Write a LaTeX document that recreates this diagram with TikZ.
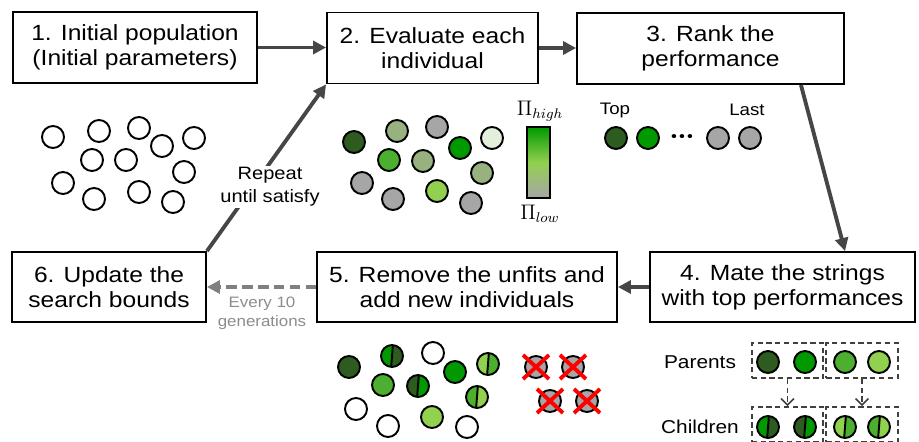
\documentclass[tikz,border=0pt]{standalone}
\usepackage{fontspec}
\setmainfont{Liberation Sans}[FakeStretch=1.12]
\usetikzlibrary{arrows.meta}
\definecolor{darkg}{RGB}{46,92,32}
\definecolor{brightg}{RGB}{0,153,0}
\definecolor{midg}{RGB}{76,175,48}
\definecolor{lightg}{RGB}{146,208,80}
\definecolor{sage}{RGB}{152,178,127}
\definecolor{pale}{RGB}{226,239,218}
\definecolor{greyc}{RGB}{166,166,166}
\definecolor{arrowgray}{RGB}{70,70,70}
\definecolor{dashgray}{RGB}{64,64,64}
\definecolor{softgray}{RGB}{128,128,128}
\definecolor{labelgray}{RGB}{140,140,140}

\tikzset{halves/.style 2 args={ind,path picture={
    \fill[#1] (path picture bounding box.south west) rectangle (path picture bounding box.north);
    \fill[#2] (path picture bounding box.south) rectangle (path picture bounding box.north east);
    \draw[line width=1.1pt] ([xshift=0.5pt]path picture bounding box.north) -- ([xshift=-0.5pt]path picture bounding box.south);}}}

\begin{document}
\begin{tikzpicture}[x=0.02cm,y=-0.02cm]
  \tikzstyle{stage}=[draw,line width=1.1pt,minimum height=1.42cm,inner sep=0pt,align=center,
    font=\fontsize{12.5}{14.2}\selectfont]
  \tikzstyle{ind}=[circle,draw,line width=1.1pt,minimum size=0.44cm,inner sep=0pt,fill=white]
  \tikzstyle{f}=[-{Triangle[length=2.6mm,width=2.6mm]},arrowgray,line width=2.2pt]
  \tikzstyle{lbl}=[font=\fontsize{10.6}{12.5}\selectfont]
  \tikzstyle{grp}=[draw=dashgray,dash pattern=on 3pt off 2pt,line width=0.9pt,
    minimum width=1.43cm,minimum height=0.7cm]
  \tikzstyle{grpa}=[-{Straight Barb[length=1.3mm,width=2.6mm]},dashgray,dash pattern=on 3pt off 2pt,line width=0.9pt]
  \tikzstyle{xm}=[red,line width=2.2pt]

  \useasboundingbox (0,0) rectangle (919,442);

  \node[stage,minimum width=4.88cm] (init) at (135,47.5) {1. Initial population\\(Initial parameters)};
  \node[stage,minimum width=4.22cm] (eval) at (432.5,48) {2. Evaluate each\\individual};
  \node[stage,minimum width=5.34cm] (rank) at (710.5,48.5) {3. Rank the\\performance};
  \node[stage,minimum width=5.3cm,minimum height=1.4cm] (mate) at (782.5,287) {4. Mate the strings\\with top performances};
  \node[stage,minimum width=6cm,minimum height=1.4cm] (remove) at (467,287) {5. Remove the unfits and\\add new individuals};
  \node[stage,minimum width=3.88cm,minimum height=1.4cm] (update) at (109,287) {6. Update the\\search bounds};

  \draw[f] (init.east) -- (init.east -| eval.west);
  \draw[f] (eval.east) -- (eval.east -| rank.west);
  \draw[f] ([xshift=-0.88cm]rank.south east) -- ([xshift=1.25cm]mate.north);
  \draw[f] (mate.west) -- (remove.east);
  \draw[f,softgray,dash pattern=on 6pt off 3pt] (remove.west) -- (update.east);
  \draw[f] (update.north east) -- (eval.south west);
  \node[lbl,fill=white,inner sep=1pt,align=center,font=\fontsize{10.2}{13}\selectfont] (repeat) at (270,187) {Repeat\\until satisfy};
  \node[font=\fontsize{8.6}{10.8}\selectfont,text=labelgray,align=center] (every) at (262,313) {Every 10\\generations};

  \foreach \x/\y [count=\i] in {53/137,99/131,139/128,162/146,194/138,92/160,126/160,184/172,63/183,94/199,139/192,173/202}
    \node[ind] (p\i) at (\x,\y) {};

  \foreach \x/\y/\c [count=\i] in {354/142/darkg,397/131/sage,437/127/greyc,460/148/brightg,492/138/pale,389/160/midg,
      423/161/sage,482/173/sage,362/183/greyc,393/199/greyc,437/191/lightg,471/203/greyc}
    \node[ind,fill=\c] (e\i) at (\x,\y) {};

  \node[draw,line width=1.1pt,inner sep=0pt,minimum width=0.46cm,minimum height=1.42cm,
    top color=brightg,bottom color=greyc,middle color=lightg] (bar) at (538.5,162.5) {};
  \node[font=\fontsize{11.5}{13}\selectfont] (phigh) at (540,111) {$\Pi_{high}$};
  \node[font=\fontsize{11.5}{13}\selectfont] (plow) at (540,214) {$\Pi_{low}$};

  \node[lbl,font=\fontsize{9.5}{11}\selectfont] (top) at (615,110) {Top};
  \node[lbl,font=\fontsize{9.5}{11}\selectfont] (last) at (747,110) {Last};
  \node[ind,fill=darkg] (r1) at (616,138) {};
  \node[ind,fill=brightg] (r2) at (648,138) {};
  \node[font=\fontsize{8.5}{9}\selectfont] (dots) at (682,138) {\textbullet\hspace{1.2pt}\textbullet\hspace{1.2pt}\textbullet};
  \node[ind,fill=greyc] (r3) at (718,138) {};
  \node[ind,fill=greyc] (r4) at (750,138) {};

  \foreach \x/\y/\c [count=\i] in {349/367/darkg,433/353/white,455/372/brightg,383/385/midg,356/409/white,
      388/426/white,432/417/lightg,467/427/white}
    \node[ind,fill=\c] (n\i) at (\x,\y) {};
  \foreach \x/\y/\a/\b [count=\i] in {392/356/brightg/darkg,488/364/lightg/midg,418/386/darkg/brightg,477/397/midg/lightg}
    \node[halves={\a}{\b}] (h\i) at (\x,\y) {};

  \foreach \x/\y [count=\i] in {536/367,573/367,550/401,587/401}{
    \node[ind,fill=greyc] (c\i) at (\x,\y) {};
    \draw[xm] ([shift={(-13,-12)}]c\i.center) -- ([shift={(13,12)}]c\i.center);
    \draw[xm] ([shift={(-13,12)}]c\i.center) -- ([shift={(13,-12)}]c\i.center);
  }

  \node[lbl] (parents) at (700,362) {Parents};
  \node[lbl] (children) at (700,427) {Children};
  \node[grp] (ga) at (787.5,360.5) {};
  \node[grp] (gb) at (862,360.5) {};
  \node[grp] (ka) at (787.5,424.5) {};
  \node[grp] (kb) at (862,424.5) {};
  \node[ind,fill=darkg] (m1) at (768,362) {};
  \node[ind,fill=brightg] (m2) at (805,362) {};
  \node[ind,fill=midg] (m3) at (845,362) {};
  \node[ind,fill=lightg] (m4) at (879,362) {};
  \node[halves={brightg}{darkg}] (k1) at (768,427) {};
  \node[halves={darkg}{brightg}] (k2) at (805,427) {};
  \node[halves={lightg}{midg}] (k3) at (845,427) {};
  \node[halves={midg}{lightg}] (k4) at (879,427) {};
  \draw[grpa] (ga.south) -- (ka.north);
  \draw[grpa] (gb.south) -- (kb.north);
\end{tikzpicture}
\end{document}
